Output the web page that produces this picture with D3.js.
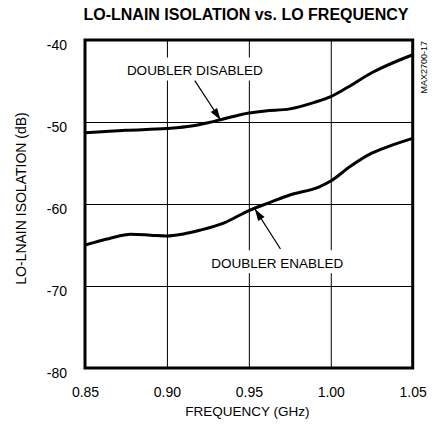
<!DOCTYPE html>
<html>
<head>
<meta charset="utf-8">
<script src="https://cdn.jsdelivr.net/npm/d3@7"></script>
<style>
  body { margin: 0; background: #fff; }
  svg { display: block; }
  text { font-family: "Liberation Sans", Arial, Helvetica, sans-serif; fill: #000; }
</style>
</head>
<body>
<svg id="chart" width="438" height="432"></svg>
<script>
// LO frequency (GHz) and LO-to-LNAIN isolation (dB), doubler disabled
const freqDisabled = [0.85, 0.875, 0.90, 0.915, 0.925, 0.935, 0.95, 0.96, 0.975, 0.99, 1.00, 1.01, 1.025, 1.05];
const isoDisabled  = [-51.3, -51.0, -50.8, -50.5, -50.1, -49.6, -48.9, -48.65, -48.4, -47.6, -46.9, -45.8, -44.0, -41.8];

// doubler enabled
const freqEnabled = [0.85, 0.865, 0.878, 0.89, 0.90, 0.91, 0.92, 0.935, 0.95, 0.963, 0.975, 0.993, 1.00, 1.012, 1.025, 1.035, 1.05];
const isoEnabled  = [-65.0, -64.2, -63.7, -63.8, -63.9, -63.65, -63.2, -62.3, -60.8, -59.8, -58.9, -57.9, -57.2, -55.4, -53.8, -53.0, -52.0];

// axis ticks
const xTicks = [0.85, 0.90, 0.95, 1.00, 1.05];
const xTickLabels = ["0.85", "0.90", "0.95", "1.00", "1.05"];
const yTicks = [-80, -70, -60, -50, -40];
const yTickLabels = ["-80", "-70", "-60", "-50", "-40"];

// curve callouts (label anchor, arrow tail, arrow tip) in data units
const calloutText = ["DOUBLER DISABLED", "DOUBLER ENABLED"];
const calloutLabel = [[0.917, -44.27], [0.9674, -67.77]];
const calloutTail  = [[0.917, -44.96], [0.9693, -65.49]];
const calloutTip   = [[0.9327, -49.76], [0.9537, -60.6]];

const W = 438, H = 432;
const plot = { left: 85, right: 412.7, top: 40, bottom: 368 };

const svg = d3.select("#chart");

const x = d3.scaleLinear().domain([0.85, 1.05]).range([plot.left, plot.right]);
const y = d3.scaleLinear().domain([-80, -40]).range([plot.bottom, plot.top]);

// title
svg.append("text")
  .attr("x", 246).attr("y", 20)
  .attr("text-anchor", "middle")
  .style("font-size", "16px").style("font-weight", "bold")
  .text("LO-LNAIN ISOLATION vs.  LO FREQUENCY");

// grid + tick labels
const xAxis = d3.axisBottom(x)
  .tickValues(xTicks)
  .tickFormat((d, i) => xTickLabels[i])
  .tickSizeInner(-(plot.bottom - plot.top))
  .tickSizeOuter(0)
  .tickPadding(19);

const yAxis = d3.axisLeft(y)
  .tickValues(yTicks)
  .tickFormat((d, i) => yTickLabels[i])
  .tickSizeInner(-(plot.right - plot.left))
  .tickSizeOuter(0)
  .tickPadding(18);

const gx = svg.append("g")
  .attr("transform", `translate(0,${plot.bottom})`)
  .call(xAxis);
const gy = svg.append("g")
  .attr("transform", `translate(${plot.left},0)`)
  .call(yAxis);

[gx, gy].forEach(g => {
  g.select(".domain").remove();
  g.selectAll(".tick line").attr("stroke", "#000").attr("stroke-width", 1);
  g.selectAll(".tick text")
    .attr("fill", "#000")
    .style("font-size", "14px")
    .style("font-family", "\"Liberation Sans\", Arial, Helvetica, sans-serif");
});
gy.selectAll(".tick text").attr("dy", "0.7em");

// axis titles
svg.append("text")
  .attr("x", 247.5).attr("y", 416)
  .attr("text-anchor", "middle")
  .style("font-size", "13.5px")
  .text("FREQUENCY (GHz)");

svg.append("text")
  .attr("transform", "translate(25.5,198.5) rotate(-90)")
  .attr("text-anchor", "middle")
  .style("font-size", "14px")
  .text("LO-LNAIN ISOLATION (dB)");

// figure code on the right edge
svg.append("text")
  .attr("transform", "translate(426.5,41) rotate(-90)")
  .attr("text-anchor", "end")
  .style("font-size", "9px")
  .text("MAX2700-17");

// curves
const line = d3.line()
  .x(d => x(d[0]))
  .y(d => y(d[1]))
  .curve(d3.curveMonotoneX);

const series = [
  d3.zip(freqDisabled, isoDisabled),
  d3.zip(freqEnabled, isoEnabled)
];

svg.append("g").selectAll("path")
  .data(series)
  .join("path")
  .attr("d", line)
  .attr("fill", "none")
  .attr("stroke", "#000")
  .attr("stroke-width", 3)
  .attr("stroke-linejoin", "round");

// callouts: white box behind label, text, arrow
svg.append("defs").append("marker")
  .attr("id", "arrowhead")
  .attr("markerUnits", "userSpaceOnUse")
  .attr("viewBox", "-13 -5 14 10")
  .attr("refX", 0).attr("refY", 0)
  .attr("markerWidth", 14).attr("markerHeight", 10)
  .attr("orient", "auto")
  .append("path")
  .attr("d", "M0,0 L-12,-3.8 L-12,3.8 Z")
  .attr("fill", "#000");

const callouts = svg.append("g");
calloutText.forEach((t, i) => {
  const g = callouts.append("g");
  const lx = x(calloutLabel[i][0]), ly = y(calloutLabel[i][1]);
  const box = g.append("rect").attr("fill", "#fff");
  const txt = g.append("text")
    .attr("x", lx).attr("y", ly)
    .attr("text-anchor", "middle")
    .style("font-size", "13.5px")
    .text(t);
  const bb = txt.node().getBBox();
  box.attr("x", bb.x - 2).attr("y", ly - 17.5)
     .attr("width", bb.width + 4).attr("height", 23);
  g.append("line")
    .attr("x1", x(calloutTail[i][0])).attr("y1", y(calloutTail[i][1]))
    .attr("x2", x(calloutTip[i][0])).attr("y2", y(calloutTip[i][1]))
    .attr("stroke", "#000").attr("stroke-width", 1.2)
    .attr("marker-end", "url(#arrowhead)");
});

// plot frame
svg.append("rect")
  .attr("x", plot.left).attr("y", plot.top)
  .attr("width", plot.right - plot.left)
  .attr("height", plot.bottom - plot.top)
  .attr("fill", "none")
  .attr("stroke", "#000")
  .attr("stroke-width", 3);
</script>
</body>
</html>
